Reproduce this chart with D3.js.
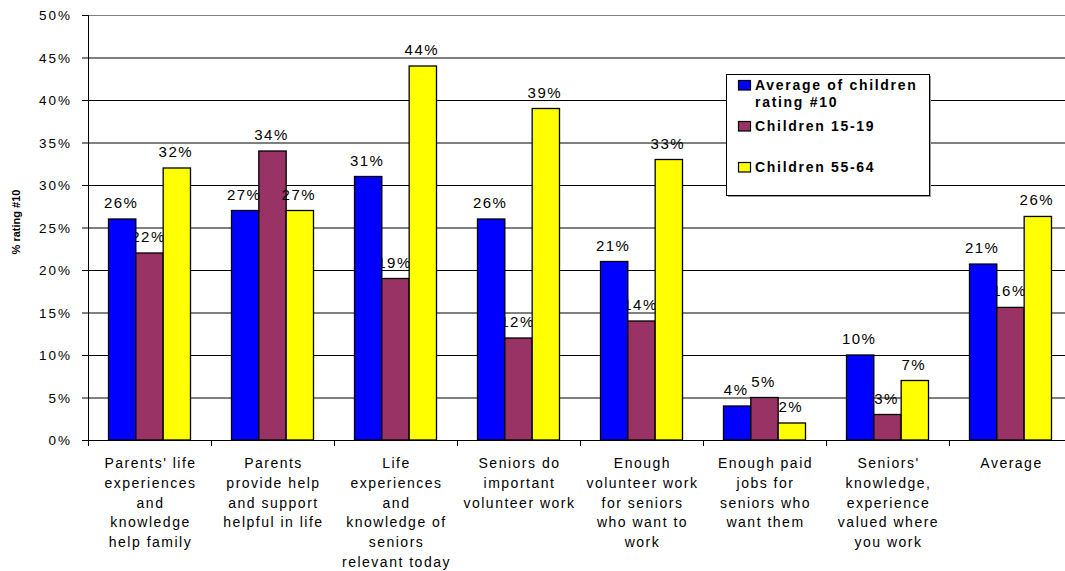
<!DOCTYPE html>
<html>
<head>
<meta charset="utf-8">
<script src="https://cdn.jsdelivr.net/npm/d3@7"></script>
<style>
  html, body { margin: 0; padding: 0; background: #fff; }
  svg { display: block; font-family: Arial, "Liberation Sans", Helvetica, sans-serif; }
</style>
</head>
<body>
<svg id="chart" width="1065" height="571"></svg>
<script>
// Categories and their wrapped axis labels
const categories = [
  "Parents' life experiences and knowledge help family",
  "Parents provide help and support helpful in life",
  "Life experiences and knowledge of seniors relevant today",
  "Seniors do important volunteer work",
  "Enough volunteer work for seniors who want to work",
  "Enough paid jobs for seniors who want them",
  "Seniors' knowledge, experience valued where you work",
  "Average"
];
const categoryLines = [
  ["Parents' life", "experiences", "and", "knowledge", "help family"],
  ["Parents", "provide help", "and support", "helpful in life"],
  ["Life", "experiences", "and", "knowledge of", "seniors", "relevant today"],
  ["Seniors do", "important", "volunteer work"],
  ["Enough", "volunteer work", "for seniors", "who want to", "work"],
  ["Enough paid", "jobs for", "seniors who", "want them"],
  ["Seniors'", "knowledge,", "experience", "valued where", "you work"],
  ["Average"]
];

// Series (percent rating #10)
const seriesNames = ["Average of children rating #10", "Children 15-19", "Children 55-64"];
const legendLines = [["Average of children", "rating #10"], ["Children 15-19"], ["Children 55-64"]];
const avgChildren  = [26, 27, 31, 26, 21, 4, 10, 20.7];
const children1519 = [22, 34, 19, 12, 14, 5, 3, 15.6];
const children5564 = [32, 27, 44, 39, 33, 2, 7, 26.3];
const seriesValues = [avgChildren, children1519, children5564];
const seriesColors = ["#0000ff", "#993366", "#ffff00"];

// Value axis ticks
const yTicks = [0, 5, 10, 15, 20, 25, 30, 35, 40, 45, 50];
const yTitle = "% rating #10";

const svg = d3.select("#chart");
const plotLeft = 88, bandW = 123, plotTop = 15, plotBottom = 440;
const plotRight = plotLeft + bandW * categories.length;

const x0 = d3.scaleBand().domain(d3.range(categories.length)).range([plotLeft, plotRight]);
const x1 = d3.scaleBand().domain(d3.range(seriesNames.length)).range([20.5, 102.5]);
const y = d3.scaleLinear().domain([0, 50]).range([plotBottom, plotTop]);

// Gridlines (top border line is lighter)
svg.append("g")
  .selectAll("line")
  .data(yTicks.filter(d => d > 0))
  .join("line")
  .attr("x1", plotLeft).attr("x2", plotRight)
  .attr("y1", d => y(d) + 0.5).attr("y2", d => y(d) + 0.5)
  .attr("stroke", d => d === 50 ? "#808080" : "#000").attr("stroke-width", 1);

// Value axis
const yAxis = svg.append("g")
  .attr("transform", `translate(${plotLeft},0)`)
  .call(d3.axisLeft(y).tickValues(yTicks).tickSize(6).tickPadding(10).tickFormat(d => d + "%"));
yAxis.select(".domain").attr("stroke", "#000");
yAxis.selectAll(".tick line").attr("stroke", "#000");
yAxis.selectAll(".tick text")
  .attr("fill", "#000")
  .style("font-size", "13.5px")
  .style("letter-spacing", "2px")
  .attr("dy", "0.36em");

svg.append("text")
  .attr("transform", `translate(19.5,222) rotate(-90)`)
  .attr("text-anchor", "middle")
  .style("font-size", "11px")
  .style("font-weight", "bold")
  .text(yTitle);

// Flattened bar data
const bars = [];
seriesValues.forEach((vals, s) => vals.forEach((v, c) => bars.push({ s, c, v })));

const fmt = v => Math.round(v) + "%";
const labelAttrs = sel => sel
  .attr("x", d => x0(d.c) + x1(d.s) + x1.bandwidth() / 2 - 1)
  .attr("y", d => y(d.v) - 11)
  .attr("text-anchor", "middle")
  .style("font-size", "15px")
  .style("letter-spacing", "1.5px")
  .attr("fill", "#000")
  .text(d => fmt(d.v));

// Middle-series labels sit beneath the bars
svg.append("g").selectAll("text")
  .data(bars.filter(d => d.s === 1))
  .join("text")
  .call(labelAttrs);

// Bars
svg.append("g").selectAll("rect")
  .data(bars)
  .join("rect")
  .attr("x", d => x0(d.c) + x1(d.s))
  .attr("y", d => y(d.v))
  .attr("width", x1.bandwidth())
  .attr("height", d => y(0) - y(d.v))
  .attr("fill", d => seriesColors[d.s])
  .attr("stroke", "#000")
  .attr("stroke-width", 1.3);

// Other labels on top
svg.append("g").selectAll("text")
  .data(bars.filter(d => d.s !== 1))
  .join("text")
  .call(labelAttrs);

// Category axis
svg.append("line")
  .attr("x1", plotLeft).attr("x2", plotRight)
  .attr("y1", plotBottom + 0.5).attr("y2", plotBottom + 0.5)
  .attr("stroke", "#000");
svg.append("g").selectAll("line")
  .data(d3.range(categories.length + 1))
  .join("line")
  .attr("x1", i => plotLeft + i * x0.bandwidth() + 0.5)
  .attr("x2", i => plotLeft + i * x0.bandwidth() + 0.5)
  .attr("y1", plotBottom).attr("y2", plotBottom + 6)
  .attr("stroke", "#000");

const catLabels = svg.append("g").selectAll("text")
  .data(categoryLines)
  .join("text")
  .attr("text-anchor", "middle")
  .style("font-size", "14px")
  .style("letter-spacing", "1.5px")
  .attr("fill", "#000");
catLabels.each(function(lines, i) {
  const t = d3.select(this);
  lines.forEach((ln, k) => {
    t.append("tspan")
      .attr("x", x0(i) + x0.bandwidth() / 2 + 1)
      .attr("y", 468 + k * 19.8)
      .text(ln);
  });
});

// Legend
const lg = svg.append("g");
lg.append("rect")
  .attr("x", 728).attr("y", 76).attr("width", 203).attr("height", 121)
  .attr("fill", "#9a9a9a");
lg.append("rect")
  .attr("x", 726.5).attr("y", 74.5).attr("width", 203).attr("height", 121)
  .attr("fill", "#fff").attr("stroke", "#000").attr("stroke-width", 1);
const legendBase = [90, 131, 172];
legendLines.forEach((lines, s) => {
  lg.append("rect")
    .attr("x", 738.5).attr("y", legendBase[s] - 9.5)
    .attr("width", 12).attr("height", 9.5)
    .attr("fill", seriesColors[s]).attr("stroke", "#000").attr("stroke-width", 1.2);
  const t = lg.append("text")
    .style("font-size", "14px")
    .style("font-weight", "bold")
    .style("letter-spacing", "1.7px")
    .attr("fill", "#000");
  lines.forEach((ln, k) => {
    t.append("tspan").attr("x", 755).attr("y", legendBase[s] + k * 17.3).text(ln);
  });
});
</script>
</body>
</html>
